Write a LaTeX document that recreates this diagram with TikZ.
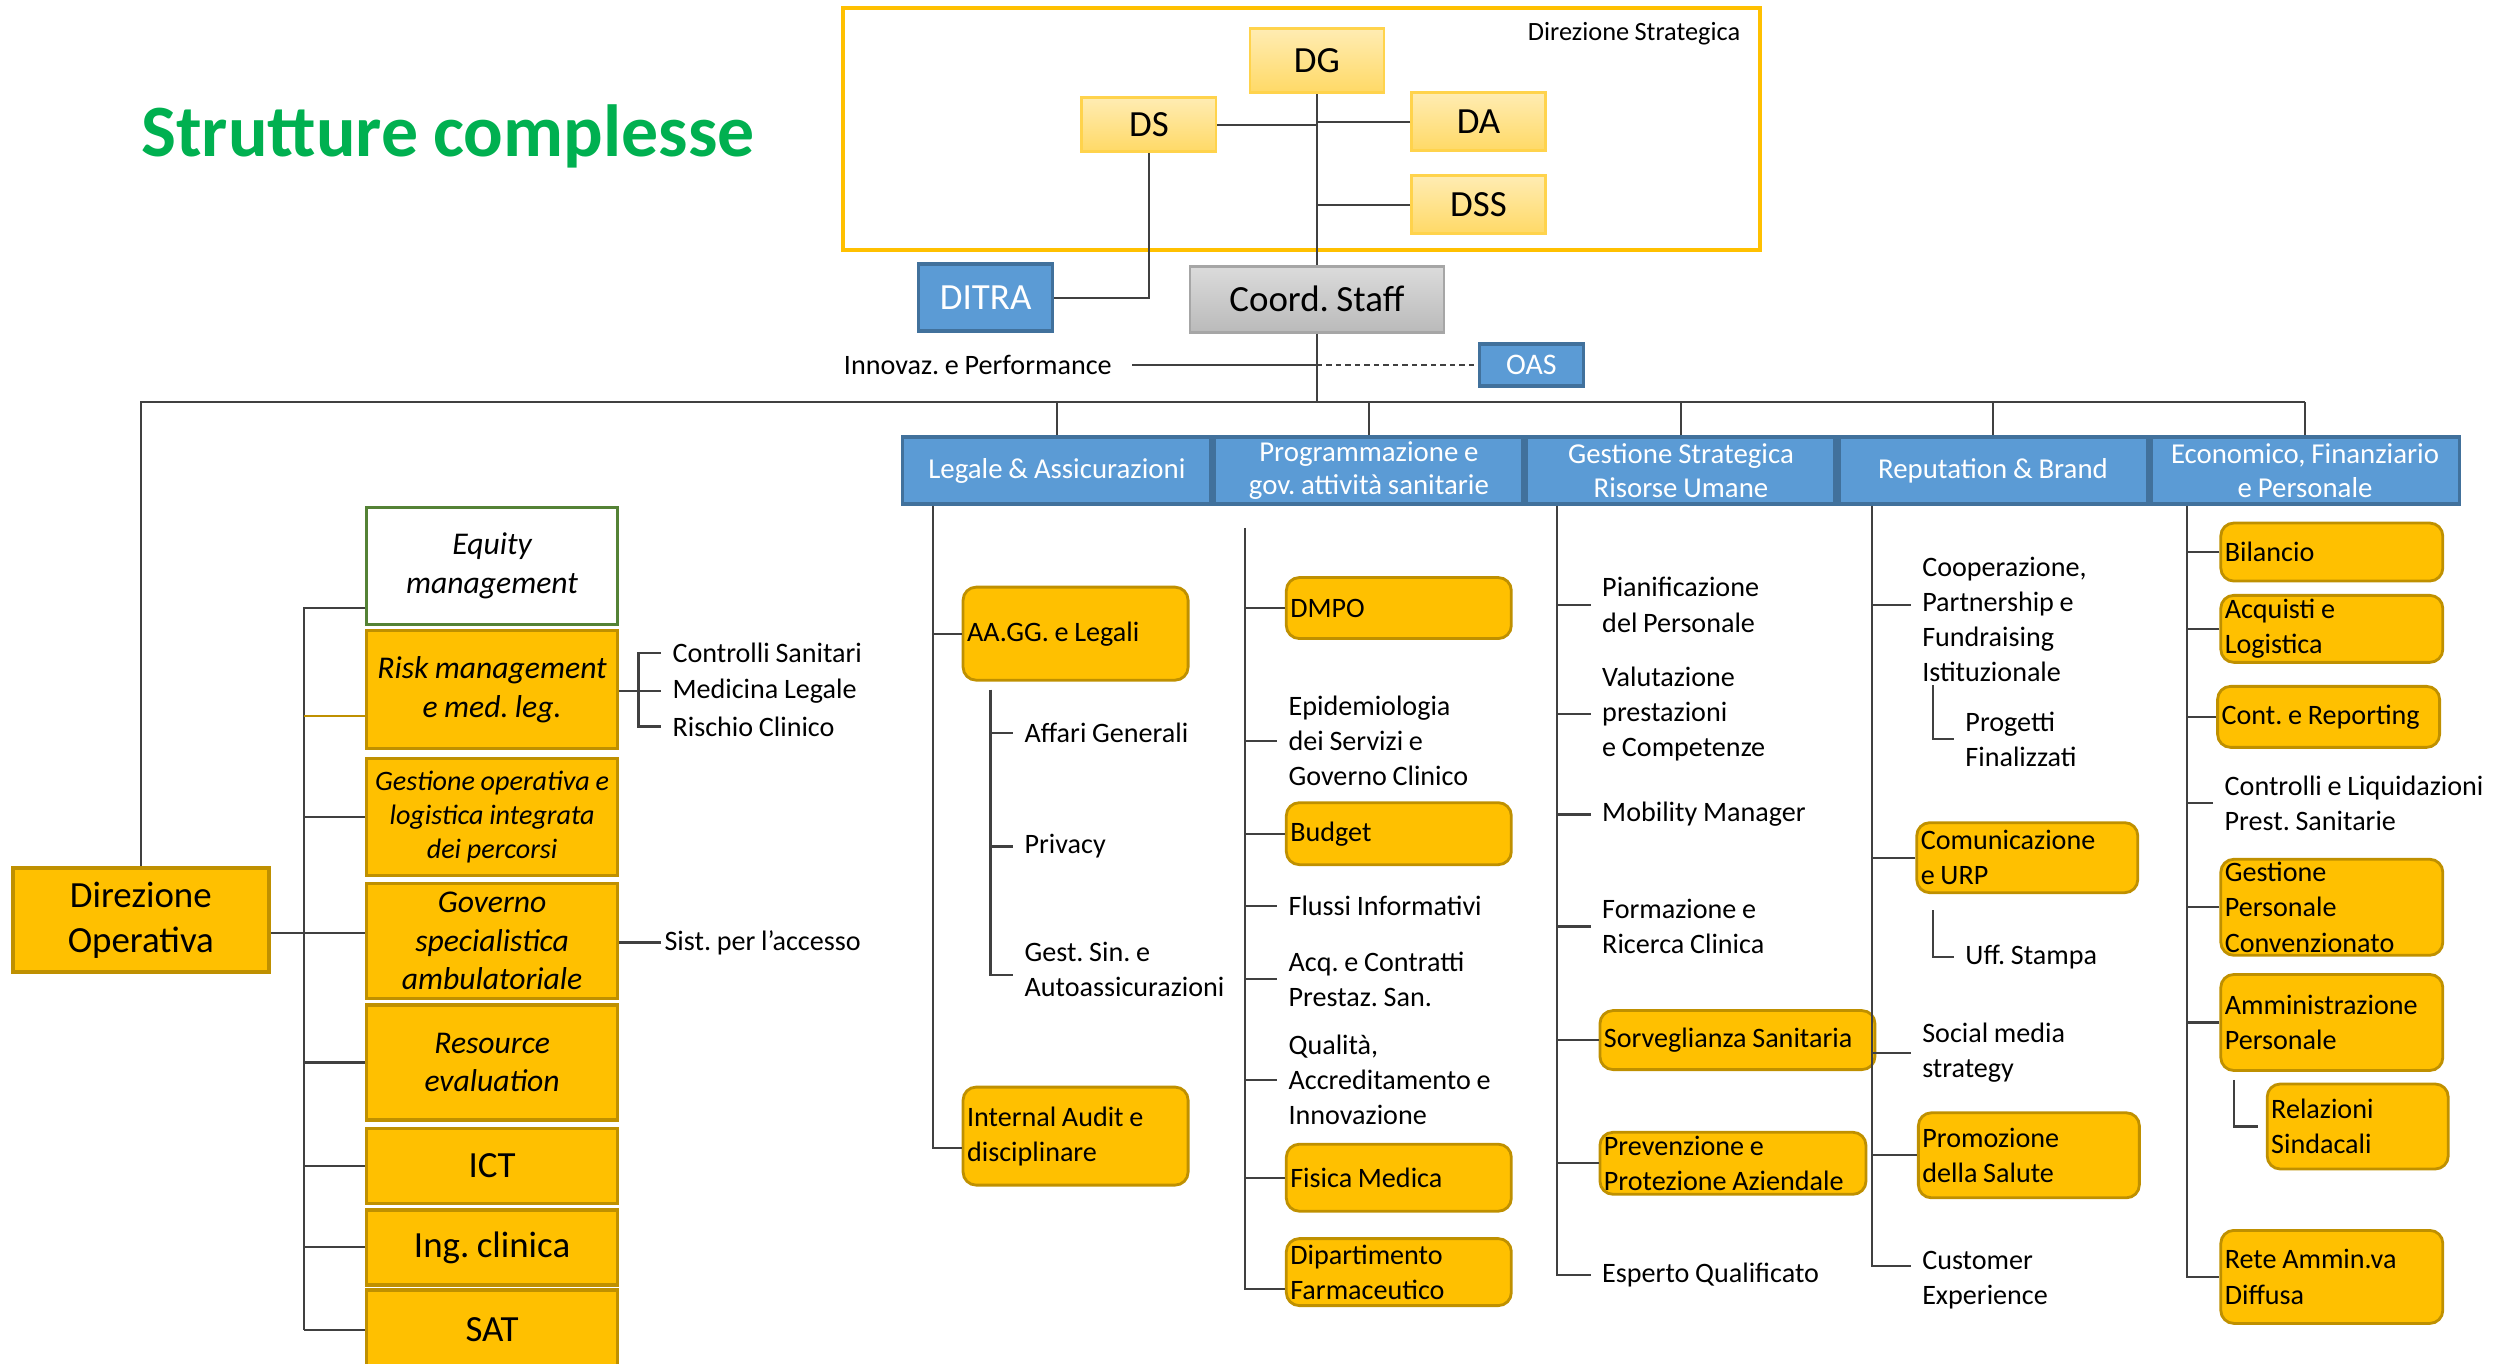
\documentclass[tikz,border=0pt]{standalone}
\usepackage{fontspec}
\setmainfont{Carlito}[WordSpace=0.9]
\usetikzlibrary{positioning}
\definecolor{oro}{HTML}{FFC000}
\definecolor{orobordo}{HTML}{BF9000}
\definecolor{azzurro}{HTML}{5B9BD5}
\definecolor{azzurrobordo}{HTML}{41719C}
\definecolor{verde}{HTML}{00B050}
\definecolor{verdebordo}{HTML}{548235}
\definecolor{linea}{HTML}{404040}
\frenchspacing

\begin{document}
\begin{tikzpicture}[x=0.16mm,y=-0.16mm,
    every node/.style={font=\fontsize{8}{10}\selectfont},
    conn/.style={draw=linea, line width=0.6pt},
    dirbox/.style={draw=oro!70, line width=0.8pt, top color=oro!30, bottom color=oro!60, minimum width=13.4mm, inner sep=0pt, font=\fontsize{10.5}{12}\selectfont},
    blubox/.style={draw=azzurrobordo, fill=azzurro, line width=1pt, text=white, inner sep=0pt},
    hdr/.style={blubox, minimum width=30.85mm, minimum height=6.7mm, align=center, font=\fontsize{8.2}{9.5}\selectfont},
    opbox/.style={draw=orobordo, fill=oro, line width=1pt, minimum width=25.1mm, anchor=north west, align=center, inner sep=0pt, font=\fontsize{9}{10.9}\selectfont\itshape},
    ubox/.style={draw=orobordo, fill=oro, line width=0.8pt, rounded corners=1.3mm, anchor=west, align=flush left, inner xsep=0.4mm, inner ysep=0pt, text width=#1},
    lbl/.style={anchor=west, align=left, inner xsep=1.1mm, inner ysep=0pt}]
    \useasboundingbox (0,0) rectangle (1568,852);

    \node[font=\fontsize{21}{25}\selectfont\bfseries, text=verde] (titolo) at (280,85) {Strutture complesse};

    % direzione strategica
    \draw[oro, line width=1.2pt] (527,5) rectangle (1100,156);
    \node[anchor=east, inner sep=0pt, font=\fontsize{7.5}{9}\selectfont] (dstrat) at (1088,21) {Direzione Strategica};
    \node[dirbox, minimum height=6.4mm] (dg) at (823,38) {DG};
    \node[dirbox, minimum height=5.4mm] (ds) at (718,78) {DS};
    \node[dirbox, minimum height=5.8mm] (da) at (924,76) {DA};
    \node[dirbox, minimum height=5.8mm] (dss) at (924,128) {DSS};
    \node[blubox, minimum width=13.4mm, minimum height=6.7mm, font=\fontsize{10.5}{12}\selectfont] (ditra) at (616,186) {DITRA};
    \node[draw=black!35, top color=black!14, bottom color=black!27, line width=0.8pt, minimum width=25.4mm, minimum height=6.6mm, inner sep=0pt, font=\fontsize{10.5}{12}\selectfont] (coord) at (823,187) {Coord. Staff};
    \node[blubox, minimum width=10.4mm, minimum height=4.2mm, font=\fontsize{8.5}{10}\selectfont] (oas) at (957,228) {OAS};
    \node[lbl, inner xsep=0pt] (inno) at (527,228) {Innovaz. e Performance};

    \draw[conn] (dg) -- (coord);
    \draw[conn] (ds) -- (ds -| dg);
    \draw[conn] (da) -- (da -| dg);
    \draw[conn] (dss) -- (dss -| dg);
    \draw[conn] (ds) |- (ditra);
    \coordinate (hbus) at (823,251);
    \draw[conn] (coord) -- (hbus);
    \draw[conn, shorten <=2mm] (inno) -- (inno -| coord);
    \draw[conn, dash pattern=on 1.5pt off 1.2pt] (oas.west -| coord) -- (oas.west);

    % aree
    \node[hdr, anchor=north west] (leg) at (563,272) {Legale \& Assicurazioni};
    \node[hdr, right=0pt of leg] (prog) {Programmazione e\\gov. attività sanitarie};
    \node[hdr, right=0pt of prog] (gsru) {Gestione Strategica\\Risorse Umane};
    \node[hdr, right=0pt of gsru] (rep) {Reputation \& Brand};
    \node[hdr, right=0pt of rep] (eco) {Economico, Finanziario\\e Personale};

    \node[draw=orobordo, fill=oro, line width=1pt, minimum width=25.6mm, minimum height=10.4mm, align=center, inner sep=0pt, font=\fontsize{10.5}{12.8}\selectfont] (dop) at (88,575) {Direzione\\Operativa};

    \draw[conn] (dop) -- (dop |- hbus) -- (eco |- hbus);
    \foreach \h in {leg,prog,gsru,rep,eco}
        \draw[conn] (\h) -- (\h |- hbus);

    % direzione operativa
    \node[opbox, draw=verdebordo, fill=white, minimum height=11.7mm] (equity) at (228,316) {Equity\\management};
    \node[opbox, minimum height=11.8mm] (risk) at (228,393) {Risk management\\e med. leg.};
    \node[opbox, minimum height=11.7mm, font=\fontsize{8}{9.6}\selectfont\itshape] (gestop) at (228,473) {Gestione operativa e\\logistica integrata\\dei percorsi};
    \node[opbox, minimum height=11.5mm] (gov) at (228,551) {Governo\\specialistica\\ambulatoriale};
    \node[opbox, minimum height=11.5mm] (res) at (228,627) {Resource\\evaluation};
    \node[opbox, minimum height=7.5mm, font=\fontsize{10.5}{12}\selectfont] (ict) at (228,704) {ICT};
    \node[opbox, minimum height=7.5mm, font=\fontsize{10.5}{12}\selectfont] (ing) at (228,755) {Ing. clinica};
    \node[opbox, minimum height=8mm, font=\fontsize{10.5}{12}\selectfont] (sat) at (228,805) {SAT};

    \coordinate (lbus) at (190,0);
    \draw[conn] ([yshift=1.8mm]equity.south west) -- ([yshift=1.8mm]equity.south west -| lbus) -- (sat.west -| lbus);
    \draw[conn, draw=orobordo] ([yshift=-2.6mm]risk.west) -- ([yshift=-2.6mm]risk.west -| lbus);
    \foreach \n in {gestop,res,ict,ing,sat}
        \draw[conn] (\n.west) -- (\n.west -| lbus);
    \draw[conn] ([yshift=0.8mm]gov.west) -- ([yshift=0.8mm]gov.west -| dop.east);

    \node[lbl] (csan) at (413,408) {Controlli Sanitari};
    \node[lbl] (mleg) at (413,432) {Medicina Legale};
    \node[lbl] (rcli) at (413,454) {Rischio Clinico};
    \coordinate (rbr) at (399,0);
    \draw[conn] (mleg -| risk.east) -- (mleg.west);
    \draw[conn] (csan.west) -| (rbr |- mleg) |- (rcli.west);
    \node[lbl, inner xsep=0.3mm] (sist) at (413,589) {Sist. per l’accesso};
    \draw[conn] (sist.west -| gov.east) -- (sist.west);

    % legale
    \coordinate (lgbus) at (583,0);
    \node[ubox=21.7mm, minimum height=9.3mm] (aagg) at (601,396) {AA.GG. e Legali};
    \node[ubox=21.7mm, minimum height=9.8mm] (audit) at (601,710) {Internal Audit e\\disciplinare};
    \draw[conn] (leg.south -| lgbus) -- ([yshift=-1.2mm]audit.west -| lgbus) -- ([yshift=-1.2mm]audit.west);
    \draw[conn] (aagg.west) -- (aagg.west -| lgbus);
    \coordinate (lgsub) at (619,0);
    \node[lbl] (affari) at (633,458) {Affari Generali};
    \node[lbl] (privacy) at (633,529) {Privacy};
    \node[lbl] (gestsin) at (633,606) {Gest. Sin. e\\Autoassicurazioni};
    \draw[conn, shorten <=0.8mm] (aagg.south -| lgsub) -- ([yshift=-0.5mm]gestsin.west -| lgsub) -- ([yshift=-0.5mm]gestsin.west);
    \foreach \n in {affari,privacy}
        \draw[conn] (\n.west) -- (\n.west -| lgsub);

    % programmazione
    \coordinate (pgbus) at (778,0);
    \node[ubox=21.7mm, minimum height=6.1mm] (dmpo) at (803,380) {DMPO};
    \node[lbl] (epid) at (798,463) {Epidemiologia\\dei Servizi e\\Governo Clinico};
    \node[ubox=21.7mm, minimum height=6.2mm] (budget) at (803,521) {Budget};
    \node[lbl] (flussi) at (798,566) {Flussi Informativi};
    \node[lbl] (acq) at (798,612) {Acq. e Contratti\\Prestaz. San.};
    \node[lbl] (qual) at (798,675) {Qualità,\\Accreditamento e\\Innovazione};
    \node[ubox=21.7mm, minimum height=6.7mm] (fisica) at (803,736) {Fisica Medica};
    \node[ubox=21.7mm, minimum height=6.7mm] (farm) at (803,795) {Dipartimento\\Farmaceutico};
    \draw[conn] ([yshift=-2.2mm]prog.south -| pgbus) -- ([yshift=-1.7mm]farm.west -| pgbus) -- ([yshift=-1.7mm]farm.west);
    \foreach \n in {dmpo,epid,budget,flussi,acq,qual,fisica}
        \draw[conn] (\n.west) -- (\n.west -| pgbus);

    % risorse umane
    \coordinate (gsbus) at (973,0);
    \node[lbl] (pianif) at (994,378) {Pianificazione\\del Personale};
    \node[lbl] (valut) at (994,446) {Valutazione\\prestazioni\\e Competenze};
    \node[lbl] (mobil) at (994,509) {Mobility Manager};
    \node[lbl] (form) at (994,579) {Formazione e\\Ricerca Clinica};
    \node[ubox=26.7mm, minimum height=5.9mm] (sorv) at (999,650) {Sorveglianza Sanitaria};
    \node[ubox=25.8mm, minimum height=6.2mm] (prev) at (999,727) {Prevenzione e\\Protezione Aziendale};
    \node[lbl] (esperto) at (994,797) {Esperto Qualificato};
    \draw[conn] (gsru.south -| gsbus) -- (esperto.west -| gsbus) -- (esperto.west);
    \foreach \n in {pianif,valut,mobil,form,sorv,prev}
        \draw[conn] (\n.west) -- (\n.west -| gsbus);

    % reputation
    \coordinate (rpbus) at (1170,0);
    \coordinate (rpsub) at (1208,0);
    \node[lbl] (coop) at (1194,387) {Cooperazione,\\Partnership e\\Fundraising\\Istituzionale};
    \node[lbl] (progfin) at (1221,462) {Progetti\\Finalizzati};
    \node[ubox=21.3mm, minimum height=7mm] (comun) at (1197,536) {Comunicazione\\e URP};
    \node[lbl] (uff) at (1221,598) {Uff. Stampa};
    \node[lbl] (social) at (1194,658) {Social media\\strategy};
    \node[ubox=21.3mm, minimum height=8.5mm] (promo) at (1198,722) {Promozione\\della Salute};
    \node[lbl] (cust) at (1194,800) {Customer\\Experience};
    \draw[conn] (rep.south -| rpbus) -- ([yshift=1.4mm]cust.west -| rpbus) -- ([yshift=1.4mm]cust.west);
    \draw[conn] ([yshift=1.4mm]coop.west) -- ([yshift=1.4mm]coop.west -| rpbus);
    \foreach \n in {comun,social,promo}
        \draw[conn] (\n.west) -- (\n.west -| rpbus);
    \draw[conn, shorten <=0.3mm] (coop.south -| rpsub) |- (progfin.west);
    \draw[conn, shorten <=1.6mm] (comun.south -| rpsub) |- (uff.west);

    % economico
    \coordinate (ecbus) at (1367,0);
    \coordinate (ecsub) at (1396,0);
    \node[ubox=21.4mm, minimum height=5.8mm] (bil) at (1387,345) {Bilancio};
    \node[ubox=21.4mm, minimum height=6.7mm] (acqlog) at (1387,393) {Acquisti e\\Logistica};
    \node[ubox=21.4mm, minimum height=6.1mm] (cont) at (1385,448) {Cont. e Reporting};
    \node[lbl] (contrl) at (1383,502) {Controlli e Liquidazioni\\Prest. Sanitarie};
    \node[ubox=21.4mm, minimum height=9.6mm] (gpc) at (1387,567) {Gestione\\Personale\\Convenzionato};
    \node[ubox=21.4mm, minimum height=9.6mm] (ammp) at (1387,639) {Amministrazione\\Personale};
    \node[ubox=17.3mm, minimum height=8.5mm] (relsin) at (1416,704) {Relazioni\\Sindacali};
    \node[ubox=21.4mm, minimum height=9.3mm] (rete) at (1387,798) {Rete Ammin.va\\Diffusa};
    \draw[conn] (eco.south -| ecbus) -- (rete.west -| ecbus) -- (rete.west);
    \foreach \n in {bil,acqlog,cont,contrl,gpc,ammp}
        \draw[conn] (\n.west) -- (\n.west -| ecbus);
    \draw[conn, shorten <=0.8mm, shorten >=0.8mm] (ammp.south -| ecsub) |- (relsin.west);
\end{tikzpicture}
\end{document}
